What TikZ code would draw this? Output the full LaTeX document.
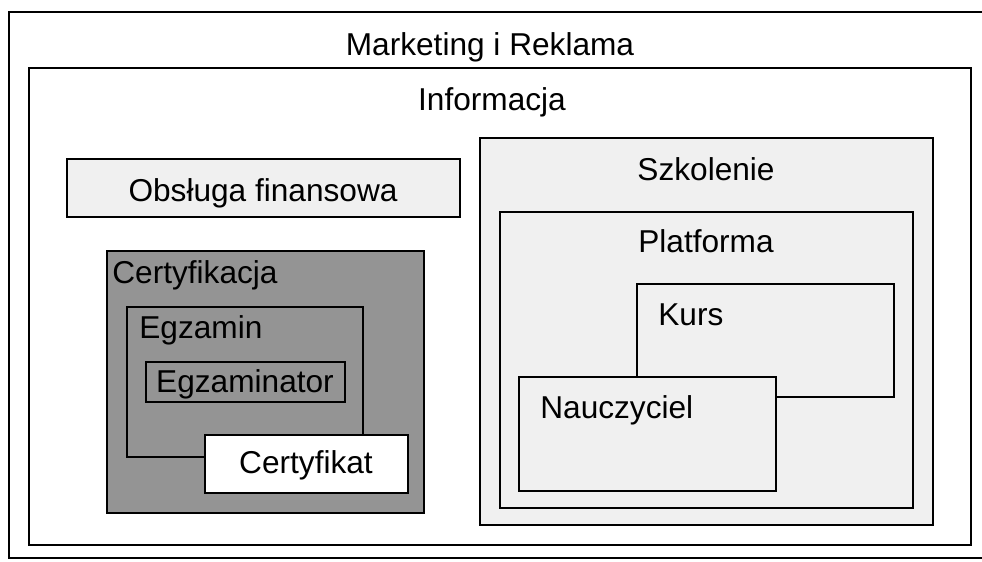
\documentclass[tikz,border=0pt]{standalone}
\usepackage{fontspec}
\setmainfont{Liberation Sans}
\usetikzlibrary{positioning}

\begin{document}
\begin{tikzpicture}[x=0.02cm, y=-0.02cm,
  every node/.style={inner sep=0pt, font=\fontsize{18}{21}\selectfont},
  frame/.style={draw=black, line width=0.7pt},
  light/.style={frame, fill=black!6},
  dark/.style={frame, fill=black!42},
  plain/.style={frame, fill=white}]
  \useasboundingbox (0,0) rectangle (982,561);
  \fill[white] (0,0) rectangle (982,561);
  \draw[line width=1.4pt] (9,12) rectangle (995,558);
  \draw[line width=0.9pt] (29,68) rectangle (971,545);
  \node[anchor=base] (marketing) at (490,55) {Marketing i Reklama};
  \node[anchor=base] (informacja) at (492,110) {Informacja};

  \draw[light] (67,159) rectangle (460,217);
  \node[anchor=base] (obsluga) at (263,201) {Obsługa finansowa};

  \draw[dark] (107,251) rectangle (424,513);
  \node[anchor=base west] (certyfikacja) at (112,283) {Certyfikacja};
  \draw[dark] (127,307) rectangle (363,457);
  \node[anchor=base west] (egzamin) at (139,338) {Egzamin};
  \draw[dark] (146,362) rectangle (345,402);
  \node[anchor=base] (egzaminator) at (245,392) {Egzaminator};
  \draw[plain] (205,435) rectangle (408,493);
  \node[anchor=base] (certyfikat) at (306,473) {Certyfikat};

  \draw[light] (480,138) rectangle (933,525);
  \node[anchor=base] (szkolenie) at (706,180) {Szkolenie};
  \draw[light] (500,212) rectangle (913,508);
  \node[anchor=base] (platforma) at (706,252) {Platforma};
  \draw[light] (637,284) rectangle (894,397);
  \node[anchor=base west] (kurs) at (658,325) {Kurs};
  \draw[light] (519,377) rectangle (776,491);
  \node[anchor=base west] (nauczyciel) at (540,418) {Nauczyciel};
\end{tikzpicture}
\end{document}
